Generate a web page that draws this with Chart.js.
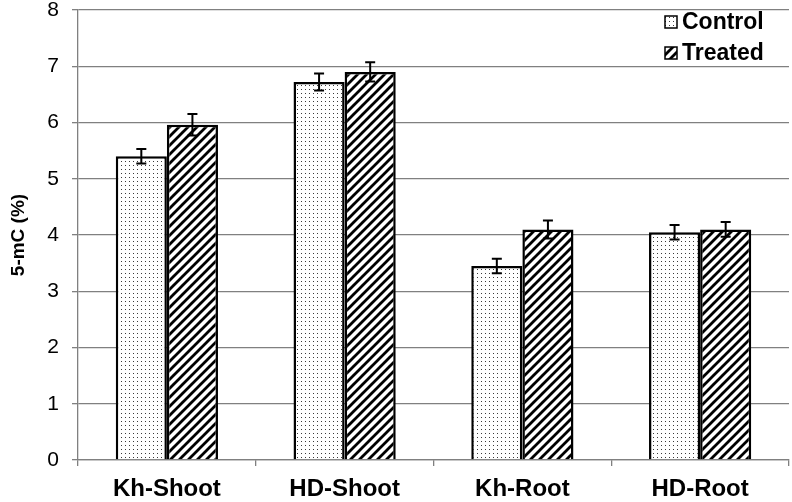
<!DOCTYPE html>
<html>
<head>
<meta charset="utf-8">
<script src="https://cdn.jsdelivr.net/npm/chart.js@4/dist/chart.umd.min.js"></script>
<style>
html,body{margin:0;padding:0;background:#fff;}
#wrap{width:792px;height:502px;}
</style>
</head>
<body>
<div id="wrap"><canvas id="c" width="792" height="502"></canvas></div>
<script>
const categories = ['Kh-Shoot', 'HD-Shoot', 'Kh-Root', 'HD-Root'];
const seriesNames = ['Control', 'Treated'];
const controlValues = [5.40, 6.72, 3.45, 4.05];
const treatedValues = [5.96, 6.90, 4.10, 4.10];
const controlErrors = [0.13, 0.15, 0.13, 0.13];
const treatedErrors = [0.19, 0.17, 0.16, 0.13];
const yMin = 0, yMax = 8, yStep = 1;
const yTitle = '5-mC (%)';

function dotPattern() {
  const c = document.createElement('canvas');
  c.width = 4; c.height = 4;
  const g = c.getContext('2d');
  g.fillStyle = '#ffffff';
  g.fillRect(0, 0, 4, 4);
  g.fillStyle = '#3a3a3a';
  g.fillRect(1, 1, 1, 1);
  return g.createPattern(c, 'repeat');
}
function stripePattern() {
  const s = 9;
  const c = document.createElement('canvas');
  c.width = s; c.height = s;
  const g = c.getContext('2d');
  g.fillStyle = '#ffffff';
  g.fillRect(0, 0, s, s);
  g.strokeStyle = '#000000';
  g.lineWidth = 2.8;
  g.beginPath();
  g.moveTo(-2, s + 2); g.lineTo(s + 2, -2);
  g.moveTo(-2, 2); g.lineTo(2, -2);
  g.moveTo(s - 2, s + 2); g.lineTo(s + 2, s - 2);
  g.stroke();
  return g.createPattern(c, 'repeat');
}
const fills = [dotPattern(), stripePattern()];
const errs = [controlErrors, treatedErrors];

const errorBars = {
  id: 'errorBars',
  afterDatasetsDraw(chart) {
    const ctx = chart.ctx;
    const y = chart.scales.y;
    ctx.save();
    ctx.strokeStyle = '#000';
    ctx.lineWidth = 2;
    chart.data.datasets.forEach((ds, di) => {
      const meta = chart.getDatasetMeta(di);
      meta.data.forEach((bar, i) => {
        const v = ds.data[i], e = errs[di][i];
        const x = bar.x;
        const yt = y.getPixelForValue(v + e);
        const yb = y.getPixelForValue(v - e);
        ctx.beginPath();
        ctx.moveTo(x, yt); ctx.lineTo(x, yb);
        ctx.moveTo(x - 5, yt); ctx.lineTo(x + 5, yt);
        ctx.moveTo(x - 5, yb); ctx.lineTo(x + 5, yb);
        ctx.stroke();
      });
    });
    ctx.restore();
  }
};

const customLegend = {
  id: 'customLegend',
  afterDraw(chart) {
    const ctx = chart.ctx;
    const area = chart.chartArea;
    ctx.save();
    ctx.font = 'bold 23px Arial, "Liberation Sans", sans-serif';
    ctx.textBaseline = 'middle';
    ctx.fillStyle = '#000';
    const ys = [22, 53];
    seriesNames.forEach((name, i) => {
      const bx = area.right - 124, by = ys[i] - 6;
      ctx.fillStyle = fills[i];
      ctx.fillRect(bx, by, 12, 12);
      ctx.strokeStyle = '#000';
      ctx.lineWidth = 1.5;
      ctx.strokeRect(bx, by, 12, 12);
      ctx.fillStyle = '#000';
      ctx.fillText(name, bx + 17, ys[i] + 1);
    });
    ctx.restore();
  }
};

new Chart(document.getElementById('c'), {
  type: 'bar',
  data: {
    labels: categories,
    datasets: [
      { label: seriesNames[0], data: controlValues, backgroundColor: fills[0], borderColor: '#000', borderWidth: 2.5, borderSkipped: 'bottom' },
      { label: seriesNames[1], data: treatedValues, backgroundColor: fills[1], borderColor: '#000', borderWidth: 2.5, borderSkipped: 'bottom' }
    ]
  },
  options: {
    responsive: false,
    animation: false,
    events: [],
    categoryPercentage: 0.575,
    barPercentage: 1.0,
    layout: { padding: { top: 10, right: 3, left: 0, bottom: 0 } },
    plugins: { legend: { display: false }, tooltip: { enabled: false } },
    scales: {
      x: {
        grid: { offset: true, drawOnChartArea: false, tickLength: 6, color: '#808080', lineWidth: 1.3 },
        border: { color: '#808080', width: 1.3 },
        ticks: { color: '#000', padding: 9, font: { family: 'Arial, "Liberation Sans", sans-serif', size: 24, weight: 'bold' } },
        afterFit(s) { s.height = 42; s.paddingLeft = 0; s.paddingRight = 0; }
      },
      y: {
        min: yMin, max: yMax,
        ticks: { stepSize: yStep, color: '#000', padding: 13, font: { family: 'Arial, "Liberation Sans", sans-serif', size: 21 } },
        grid: { color: '#808080', lineWidth: 1.3, tickLength: 6 },
        border: { color: '#808080', width: 1.3 },
        title: { display: true, text: yTitle, color: '#000', padding: { top: 7, bottom: 0 }, font: { family: 'Arial, "Liberation Sans", sans-serif', size: 19, weight: 'bold' } },
        afterFit(s) { s.width = 78; s.paddingTop = 0; s.paddingBottom = 0; }
      }
    }
  },
  plugins: [errorBars, customLegend]
});
</script>
</body>
</html>
